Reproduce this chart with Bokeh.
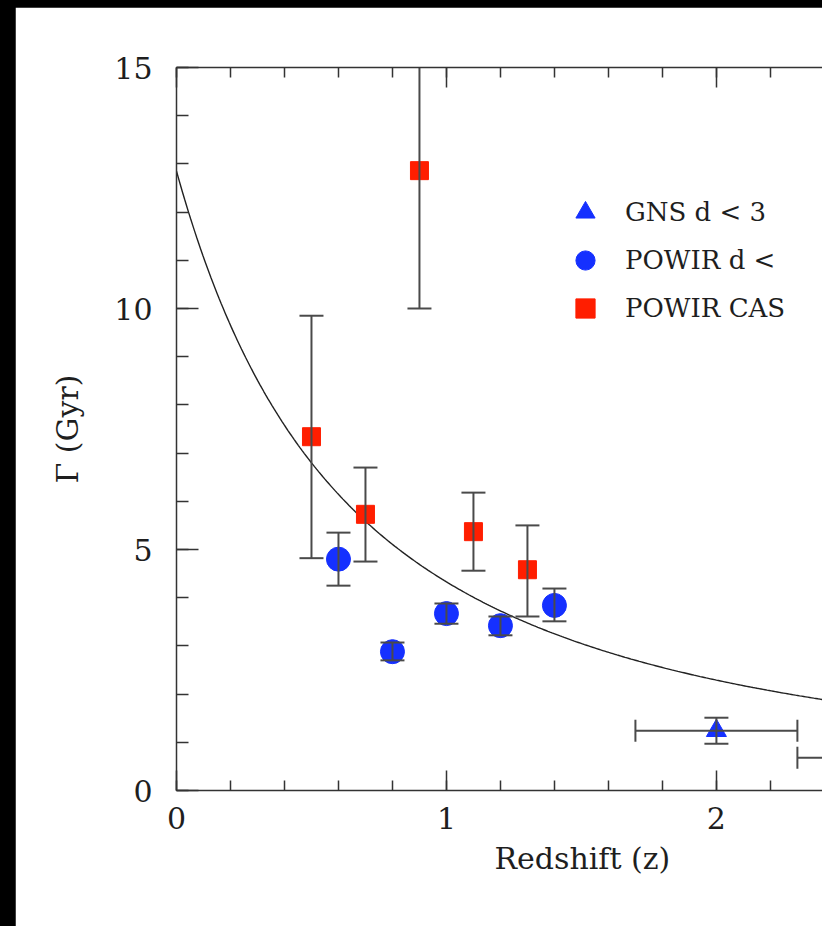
import numpy as np
from bokeh.plotting import figure
from bokeh.models import (LinearAxis, SingleIntervalTicker, Range1d, Legend, LegendItem,
                          Title, CustomJSTickFormatter)
from bokeh.embed import file_html
from bokeh.resources import INLINE

# ---------------- data ----------------
# POWIR CAS (red squares)
cas_z = [0.5, 0.7, 0.9, 1.1, 1.3]
cas_gamma = [7.34, 5.73, 12.86, 5.37, 4.58]
cas_lo = [4.82, 4.75, 10.0, 4.56, 3.61]
cas_hi = [9.85, 6.70, 15.7, 6.18, 5.50]

# POWIR pairs (blue circles)
pow_z = [0.6, 0.8, 1.0, 1.2, 1.4]
pow_gamma = [4.80, 2.88, 3.67, 3.42, 3.84]
pow_lo = [4.25, 2.70, 3.46, 3.22, 3.51]
pow_hi = [5.35, 3.07, 3.88, 3.61, 4.19]

# GNS pairs (blue triangles)
gns_z = [2.0, 2.65]
gns_gamma = [1.24, 0.68]
gns_lo = [0.97, 0.45]
gns_hi = [1.51, 0.91]
gns_zlo = [1.7, 2.3]
gns_zhi = [2.3, 3.0]

# fitted model: Gamma = Gamma0 * (1+z)^-m
fit_gamma0 = 12.85
fit_m = 1.57

legend_labels = ["GNS d < 3", "POWIR d <", "POWIR CAS"]
x_label = "Redshift (z)"
y_label = "\u0393 (Gyr)"

# ---------------- styling ----------------
FONT = "DejaVu Serif"
TXT = "#1e1e1e"
RED = "#ff1e00"
BLUE = "#1530ff"
ERR = "#4a4a4a"

p = figure(width=807, height=919, x_range=Range1d(0, 2.393), y_range=Range1d(0, 15),
           output_backend="svg", toolbar_location=None,
           min_border_left=161, min_border_right=0, min_border_top=60, min_border_bottom=136)
p.margin = (7, 0, 0, 15)
p.outline_line_color = None
p.grid.visible = False
p.background_fill_color = "white"
p.border_fill_color = "white"

xt = SingleIntervalTicker(interval=1, num_minor_ticks=5)
yt = SingleIntervalTicker(interval=5, num_minor_ticks=5)

def style_axis(ax, major_in, minor_in):
    ax.axis_line_color = "#333333"
    ax.axis_line_width = 1.5
    ax.major_tick_line_color = "#333333"
    ax.minor_tick_line_color = "#333333"
    ax.major_tick_line_width = 1.5
    ax.minor_tick_line_width = 1.5
    ax.major_tick_in = major_in
    ax.major_tick_out = 0
    ax.minor_tick_in = minor_in
    ax.minor_tick_out = 0
    ax.major_label_text_font = FONT
    ax.major_label_text_font_size = "30px"
    ax.major_label_text_color = TXT

xa = p.xaxis[0]
xa.ticker = xt
style_axis(xa, 20, 10)
xa.major_label_standoff = 16

ya = p.yaxis[0]
ya.ticker = yt
style_axis(ya, 22, 12)
ya.major_label_standoff = 24
ya.axis_label = y_label
ya.axis_label_text_font = FONT
ya.axis_label_text_font_size = "30px"
ya.axis_label_text_font_style = "normal"
ya.axis_label_text_color = TXT
ya.axis_label_standoff = 26

top = LinearAxis(ticker=SingleIntervalTicker(interval=1, num_minor_ticks=5),
                 formatter=CustomJSTickFormatter(code="return ''"))
style_axis(top, 20, 10)
p.add_layout(top, "above")

p.add_layout(Title(text=x_label, align="left", offset=318, vertical_align="top",
                   text_font=FONT, text_font_size="30px", text_font_style="normal",
                   text_color=TXT, standoff=18), "below")

# model curve
z_fit = np.linspace(0, 3, 400)
g_fit = fit_gamma0 * (1 + z_fit) ** (-fit_m)
p.line(z_fit, g_fit, line_color="#222222", line_width=1.4)

# markers
r_gns = p.scatter(gns_z, gns_gamma, marker="triangle", size=20, color=BLUE)
r_pow = p.scatter(pow_z, pow_gamma, marker="circle", size=24, color=BLUE)
r_cas = p.scatter(cas_z, cas_gamma, marker="square", size=18, color=RED)

# error bars (drawn over the markers)
for zs, lo, hi in [(cas_z, cas_lo, cas_hi), (pow_z, pow_lo, pow_hi), (gns_z, gns_lo, gns_hi)]:
    p.segment(x0=zs, y0=lo, x1=zs, y1=hi, line_color=ERR, line_width=2)
    p.scatter(list(zs) + list(zs), list(lo) + list(hi), marker="dash", size=24,
              line_color=ERR, line_width=2)
p.segment(x0=gns_zlo, y0=gns_gamma, x1=gns_zhi, y1=gns_gamma, line_color=ERR, line_width=2)
p.scatter(gns_zlo + gns_zhi, gns_gamma + gns_gamma, marker="dash", angle=np.pi / 2,
          size=22, line_color=ERR, line_width=2)

legend = Legend(items=[LegendItem(label=legend_labels[0], renderers=[r_gns]),
                       LegendItem(label=legend_labels[1], renderers=[r_pow]),
                       LegendItem(label=legend_labels[2], renderers=[r_cas])],
                location=(385, 458), glyph_width=48, glyph_height=48, label_standoff=16,
                spacing=0, padding=0, margin=0, border_line_color=None,
                background_fill_alpha=0, label_text_font=FONT,
                label_text_font_size="26px", label_text_color=TXT)
p.add_layout(legend)

html = file_html(p, INLINE)
idx = html.rfind("</head>")
style = "<style>html,body{margin:0;padding:0;background:#000;overflow:hidden;}</style>"
if idx >= 0:
    html = html[:idx] + style + html[idx:]
open("out.html", "w").write(html)
